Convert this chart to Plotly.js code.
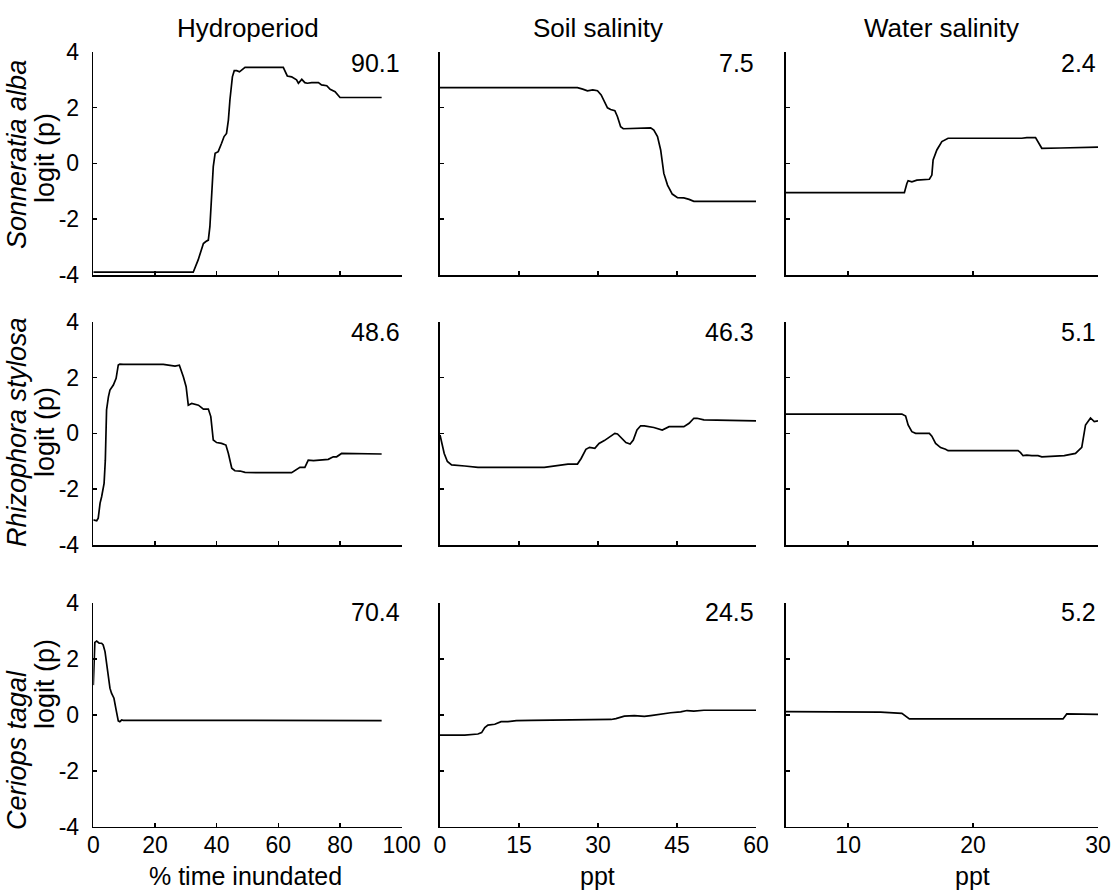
<!DOCTYPE html>
<html>
<head>
<meta charset="utf-8">
<script src="https://cdn.plot.ly/plotly-3.0.1.min.js"></script>
<style>html,body{margin:0;padding:0;background:#fff}</style>
</head>
<body>
<div id="chart" style="width:1113px;height:896px"></div>
<script>
// ---- Data ----
const columnTitles = ["Hydroperiod", "Soil salinity", "Water salinity"];
const speciesNames = ["Sonneratia alba", "Rhizophora stylosa", "Ceriops tagal"];
const panelValues = [["90.1", "7.5", "2.4"], ["48.6", "46.3", "5.1"], ["70.4", "24.5", "5.2"]];
const xAxisTitles = ["% time inundated", "ppt", "ppt"];
const yTitle = "logit (p)";

const yTickVals = [-4, -2, 0, 2, 4];
const yTickText = ["-4", "-2", "0", "2", "4"];
const hydroTicks = [0, 20, 40, 60, 80, 100];
const soilTicks = [0, 15, 30, 45, 60];
const waterTicks = [10, 20, 30];
const hydroRange = [0, 100];
const soilRange = [0, 60];
const waterRange = [5, 30];

// Sonneratia alba
const saHydroX = [0, 32.4, 34, 35.7, 36.5, 37.3, 37.8, 38.4, 38.9, 39.5, 40.5, 41.6, 42.4, 43.2, 43.8, 44.3, 45.1, 45.7, 46.5, 47.4, 48.1, 49.2, 61.6, 62.2, 62.9, 64.3, 65.9, 66.5, 67.6, 68.6, 69.4, 70.8, 73, 74, 75.7, 76.8, 78.4, 80, 80.5, 93.5];
const saHydroY = [-3.9, -3.9, -3.46, -2.87, -2.8, -2.75, -2.27, -0.96, -0.12, 0.36, 0.42, 0.72, 0.96, 1.07, 1.55, 2.27, 3.1, 3.32, 3.32, 3.28, 3.34, 3.44, 3.44, 3.28, 3.13, 3.1, 2.99, 2.87, 3.01, 2.89, 2.87, 2.89, 2.89, 2.81, 2.78, 2.65, 2.57, 2.36, 2.36, 2.36];
const saSoilX = [0, 26.1, 27.1, 28, 29, 29.9, 30.6, 31.2, 31.8, 32.4, 33.2, 33.7, 34.3, 34.8, 36.2, 40, 40.6, 41.3, 41.9, 42.5, 43.2, 44.1, 45.1, 46.3, 47.3, 48.2, 60];
const saSoilY = [2.71, 2.71, 2.66, 2.6, 2.63, 2.6, 2.45, 2.21, 1.99, 1.93, 1.89, 1.67, 1.31, 1.24, 1.25, 1.27, 1.19, 0.96, 0.48, -0.36, -0.78, -1.1, -1.23, -1.24, -1.29, -1.36, -1.36];
const saWaterX = [5, 14.5, 14.7, 14.8, 15.1, 15.5, 16.5, 16.7, 16.8, 17.1, 17.5, 18, 23.9, 24.3, 25, 25.2, 25.5, 27, 30];
const saWaterY = [-1.05, -1.05, -0.72, -0.62, -0.66, -0.6, -0.57, -0.42, 0.12, 0.48, 0.78, 0.9, 0.9, 0.92, 0.92, 0.78, 0.54, 0.55, 0.58];

// Rhizophora stylosa
const rsHydroX = [0, 1.1, 1.6, 2.2, 2.7, 3.5, 3.9, 4.3, 4.9, 5.4, 6.5, 7.4, 8.1, 8.6, 9.7, 22.7, 26.5, 27.9, 29.2, 30.1, 30.8, 31.9, 34.1, 35.7, 37.3, 38.1, 38.9, 40, 41.6, 43, 43.8, 44.9, 45.9, 47.6, 49.2, 53, 64.3, 65.9, 67, 68.6, 69.7, 71.4, 73, 76.2, 77.8, 78.9, 80.5, 93.5];
const rsHydroY = [-3.1, -3.13, -3.04, -2.5, -2.27, -1.79, -0.96, 0.84, 1.31, 1.55, 1.73, 1.97, 2.45, 2.48, 2.47, 2.47, 2.41, 2.44, 2.03, 1.67, 1.01, 1.07, 1.01, 0.87, 0.87, 0.6, -0.24, -0.33, -0.36, -0.42, -0.72, -1.25, -1.34, -1.35, -1.4, -1.41, -1.41, -1.29, -1.22, -1.22, -0.96, -0.98, -0.96, -0.93, -0.84, -0.84, -0.72, -0.74];
const rsSoilX = [0, 0.3, 0.8, 1.4, 2.2, 4.7, 7.2, 19.8, 22.4, 24.3, 26.1, 26.8, 27.7, 28.4, 29.4, 30.2, 31.2, 32.1, 33.2, 33.7, 34.3, 35.3, 36.1, 36.7, 37.4, 38.1, 38.8, 40.6, 42.2, 43.5, 46.3, 47.3, 48.2, 48.8, 50.1, 52.6, 60];
const rsSoilY = [-0.06, -0.36, -0.72, -1.01, -1.13, -1.17, -1.22, -1.22, -1.16, -1.1, -1.1, -0.9, -0.57, -0.5, -0.54, -0.36, -0.26, -0.14, 0, -0.02, -0.14, -0.33, -0.38, -0.24, 0.12, 0.27, 0.27, 0.21, 0.12, 0.24, 0.24, 0.36, 0.54, 0.54, 0.48, 0.47, 0.45];
const rsWaterX = [5, 14.3, 14.6, 14.8, 15.1, 15.4, 16.5, 16.7, 17, 17.4, 17.8, 18, 23.6, 23.8, 24, 24.3, 24.7, 25.2, 25.5, 26.5, 27.3, 28.2, 28.7, 29, 29.4, 29.7, 30];
const rsWaterY = [0.69, 0.69, 0.62, 0.3, 0.06, 0, 0, -0.1, -0.36, -0.51, -0.57, -0.62, -0.62, -0.69, -0.8, -0.78, -0.8, -0.8, -0.84, -0.81, -0.8, -0.72, -0.5, 0.3, 0.55, 0.42, 0.45];

// Ceriops tagal
const ctHydroX = [0, 0.2, 0.5, 1.1, 1.9, 2.7, 3.2, 3.8, 4.3, 4.9, 5.4, 5.9, 6.7, 7.4, 8.1, 8.6, 9.2, 9.7, 93.5];
const ctHydroY = [1.07, 1.91, 2.6, 2.65, 2.57, 2.57, 2.51, 2.27, 1.79, 1.25, 0.96, 0.78, 0.6, 0.18, -0.21, -0.24, -0.18, -0.19, -0.2];
const ctSoilX = [0, 4.7, 7.2, 7.9, 8.5, 9.1, 10.4, 11.6, 12.9, 14.5, 17.3, 21.1, 25.5, 27.1, 28.7, 32.5, 33.4, 35, 36.9, 38.8, 40, 41.3, 43.8, 45.7, 46.9, 48.2, 50.1, 60];
const ctSoilY = [-0.72, -0.72, -0.68, -0.63, -0.45, -0.36, -0.33, -0.24, -0.24, -0.2, -0.19, -0.18, -0.18, -0.19, -0.17, -0.16, -0.13, -0.04, -0.02, -0.05, -0.02, 0.02, 0.08, 0.11, 0.16, 0.14, 0.17, 0.17];
const ctWaterX = [5, 11.7, 12.6, 14.3, 14.5, 14.9, 15.3, 27.2, 27.5, 28.5, 30];
const ctWaterY = [0.12, 0.12, 0.1, 0.06, 0, -0.14, -0.14, -0.14, 0.04, 0.04, 0.02];

// ---- Build figure ----
const W = 1113, H = 896;
const FONT = "Liberation Sans, Arial, Helvetica, sans-serif";
const colPx = [[93.3, 401.7], [440, 756], [785.7, 1098]];
const rowPx = [[51.7, 275], [321.7, 545], [603.3, 826.7]];
const xTitleCenters = [245, 597, 972];
const xTicksByCol = [hydroTicks, soilTicks, waterTicks];
const xRangeByCol = [hydroRange, soilRange, waterRange];
const series = [
  [[saHydroX, saHydroY], [saSoilX, saSoilY], [saWaterX, saWaterY]],
  [[rsHydroX, rsHydroY], [rsSoilX, rsSoilY], [rsWaterX, rsWaterY]],
  [[ctHydroX, ctHydroY], [ctSoilX, ctSoilY], [ctWaterX, ctWaterY]]
];

const data = [];
const layout = {
  width: W, height: H,
  margin: {l: 0, r: 0, t: 0, b: 0},
  paper_bgcolor: "#ffffff", plot_bgcolor: "#ffffff",
  showlegend: false,
  font: {family: FONT, size: 23, color: "#000"},
  annotations: []
};

for (let r = 0; r < 3; r++) {
  for (let c = 0; c < 3; c++) {
    const i = r * 3 + c + 1;
    const xa = "x" + (i === 1 ? "" : i), ya = "y" + (i === 1 ? "" : i);
    data.push({
      type: "scatter", mode: "lines",
      x: series[r][c][0], y: series[r][c][1],
      xaxis: xa, yaxis: ya,
      line: {color: "#000", width: 1.7},
      hoverinfo: "skip"
    });
    const xName = "xaxis" + (i === 1 ? "" : i), yName = "yaxis" + (i === 1 ? "" : i);
    layout[xName] = {
      domain: [colPx[c][0] / W, colPx[c][1] / W],
      anchor: ya,
      range: xRangeByCol[c],
      tickmode: "array", tickvals: xTicksByCol[c],
      ticktext: xTicksByCol[c].map(String),
      ticks: "inside", ticklen: 4, tickwidth: 1.5, tickcolor: "#000",
      showline: true, linecolor: "#000", linewidth: 1.6,
      showgrid: false, zeroline: false,
      showticklabels: r === 2,
      ticklabelstandoff: -3,
      tickfont: {family: FONT, size: 23, color: "#000"},
      fixedrange: true
    };
    layout[yName] = {
      domain: [1 - rowPx[r][1] / H, 1 - rowPx[r][0] / H],
      anchor: xa,
      range: [-4, 4],
      tickmode: "array", tickvals: yTickVals, ticktext: yTickText,
      ticks: "inside", ticklen: 4, tickwidth: 1.5, tickcolor: "#000",
      showline: true, linecolor: "#000", linewidth: 1.6,
      showgrid: false, zeroline: false,
      showticklabels: c === 0,
      ticklabelstandoff: 8,
      tickfont: {family: FONT, size: 23, color: "#000"},
      fixedrange: true
    };
  }
}

// Column titles
for (let c = 0; c < 3; c++) {
  layout.annotations.push({
    xref: "paper", yref: "paper",
    x: (colPx[c][0] + colPx[c][1]) / 2 / W, y: 1 - 28 / H,
    xanchor: "center", yanchor: "middle",
    text: columnTitles[c], showarrow: false,
    font: {family: FONT, size: 26, color: "#000"}
  });
}
// X-axis titles (bottom row)
for (let c = 0; c < 3; c++) {
  layout.annotations.push({
    xref: "paper", yref: "paper",
    x: xTitleCenters[c] / W, y: 1 - 876 / H,
    xanchor: "center", yanchor: "middle",
    text: xAxisTitles[c], showarrow: false,
    font: {family: FONT, size: 25, color: "#000"}
  });
}
// Species labels (italic, rotated) and y-axis titles
const speciesCenters = [155, 432, 750];
const yTitleCenters = [158, 432, 684];
for (let r = 0; r < 3; r++) {
  layout.annotations.push({
    xref: "paper", yref: "paper",
    x: 17 / W, y: 1 - speciesCenters[r] / H,
    xanchor: "center", yanchor: "middle",
    text: "<i>" + speciesNames[r] + "</i>", textangle: -90, showarrow: false,
    font: {family: FONT, size: 27, color: "#000"}
  });
  layout.annotations.push({
    xref: "paper", yref: "paper",
    x: 45 / W, y: 1 - yTitleCenters[r] / H,
    xanchor: "center", yanchor: "middle",
    text: yTitle, textangle: -90, showarrow: false,
    font: {family: FONT, size: 27, color: "#000"}
  });
}
// Panel numbers
const numberY = [63, 332, 612];
for (let r = 0; r < 3; r++) {
  for (let c = 0; c < 3; c++) {
    layout.annotations.push({
      xref: "paper", yref: "paper",
      x: colPx[c][1] / W, y: 1 - numberY[r] / H,
      xanchor: "right", yanchor: "middle",
      text: panelValues[r][c], showarrow: false,
      font: {family: FONT, size: 25, color: "#000"}
    });
  }
}

Plotly.newPlot("chart", data, layout, {displayModeBar: false, staticPlot: true});
</script>
</body>
</html>
